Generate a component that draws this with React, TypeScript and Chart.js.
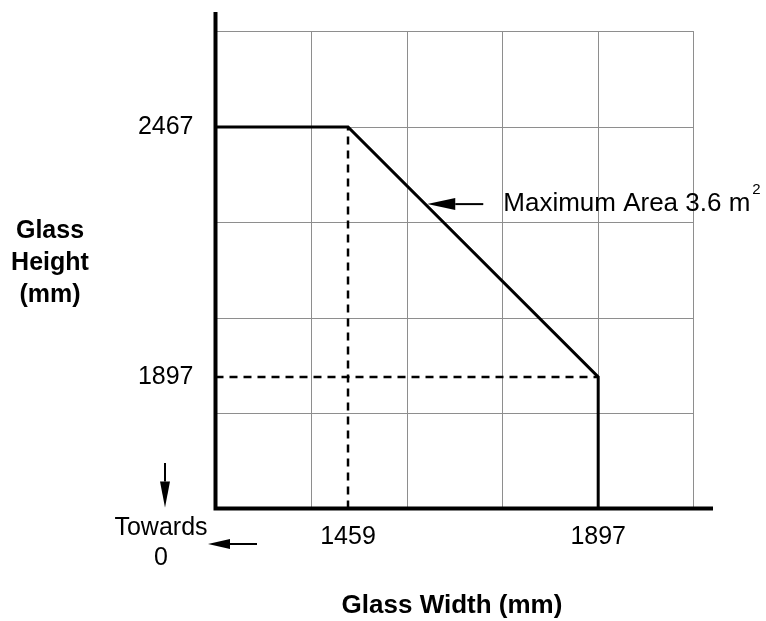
import React, { useEffect, useRef } from "react";
import { Chart, registerables } from "chart.js";
Chart.register(...registerables);

// Axis ranges (the chart is not drawn to scale from zero: "Towards 0")
const xAxisMin = 1227;
const xAxisMax = 2098;
const yAxisMin = 1597;
const yAxisMax = 2729;
const gridStepX = 167.3;
const gridStepY = 217.7;
const gridCount = 5;

// Tick labels
const widthTicks = [1459, 1897];
const heightTicks = [2467, 1897];

// Limit outline (width, height) in mm
const outlineWidths = [xAxisMin, 1459, 1897, 1897];
const outlineHeights = [2467, 2467, 1897, yAxisMin];

// Dashed guide lines
const guideWidth = 1459;
const guideHeight = 1897;
const guideTopHeight = 2467;
const guideRightWidth = 1897;

const annotationText = "Maximum Area 3.6 m";
const annotationSup = "2";
const annotationHeight = 2291; // height level where the annotation arrow touches the limit line

const FONT = "'Liberation Sans', Arial, Helvetica, sans-serif";

function arrow(ctx: CanvasRenderingContext2D, x1: number, y1: number, x2: number, y2: number, headLen: number, halfW: number, lw: number) {
  const ang = Math.atan2(y2 - y1, x2 - x1);
  const bx = x2 - Math.cos(ang) * headLen;
  const by = y2 - Math.sin(ang) * headLen;
  ctx.save();
  ctx.strokeStyle = "#000";
  ctx.fillStyle = "#000";
  ctx.lineWidth = lw;
  ctx.beginPath();
  ctx.moveTo(x1, y1);
  ctx.lineTo(bx, by);
  ctx.stroke();
  ctx.beginPath();
  ctx.moveTo(x2, y2);
  ctx.lineTo(bx + Math.sin(ang) * halfW, by - Math.cos(ang) * halfW);
  ctx.lineTo(bx - Math.sin(ang) * halfW, by + Math.cos(ang) * halfW);
  ctx.closePath();
  ctx.fill();
  ctx.restore();
}

const decorPlugin = {
  id: "decor",
  beforeDatasetsDraw(chart: any) {
    const ctx = chart.ctx as CanvasRenderingContext2D;
    const xs = chart.scales.x;
    const ys = chart.scales.y;
    const x0 = xs.getPixelForValue(xAxisMin);
    const y0 = ys.getPixelForValue(yAxisMin);
    const xEnd = xs.getPixelForValue(xAxisMin + gridStepX * gridCount);
    const yEnd = ys.getPixelForValue(yAxisMin + gridStepY * gridCount);
    ctx.save();
    ctx.strokeStyle = "#8e8e8e";
    ctx.lineWidth = 1;
    for (let k = 1; k <= gridCount; k++) {
      const px = Math.round(xs.getPixelForValue(xAxisMin + gridStepX * k)) + 0.5;
      ctx.beginPath();
      ctx.moveTo(px, y0);
      ctx.lineTo(px, yEnd);
      ctx.stroke();
      const py = Math.round(ys.getPixelForValue(yAxisMin + gridStepY * k)) + 0.5;
      ctx.beginPath();
      ctx.moveTo(x0, py);
      ctx.lineTo(xEnd, py);
      ctx.stroke();
    }
    ctx.restore();
  },
  afterDatasetsDraw(chart: any) {
    const ctx = chart.ctx as CanvasRenderingContext2D;
    const xs = chart.scales.x;
    const ys = chart.scales.y;
    const area = chart.chartArea;
    const x0 = xs.getPixelForValue(xAxisMin);
    const y0 = ys.getPixelForValue(yAxisMin);
    ctx.save();
    // axes
    ctx.strokeStyle = "#000";
    ctx.lineWidth = 4;
    ctx.lineCap = "butt";
    ctx.beginPath();
    ctx.moveTo(x0, area.top);
    ctx.lineTo(x0, y0 + 2);
    ctx.moveTo(x0 - 2, y0);
    ctx.lineTo(area.right, y0);
    ctx.stroke();

    ctx.fillStyle = "#000";
    // y tick labels
    ctx.font = `25px ${FONT}`;
    ctx.textAlign = "right";
    ctx.textBaseline = "middle";
    heightTicks.forEach((v) => {
      ctx.fillText(String(v), x0 - 22, ys.getPixelForValue(v));
    });
    // x tick labels
    ctx.textAlign = "center";
    ctx.textBaseline = "top";
    widthTicks.forEach((v) => {
      ctx.fillText(String(v), xs.getPixelForValue(v), y0 + 16);
    });
    // Towards 0
    ctx.textBaseline = "middle";
    ctx.fillText("Towards", 161, 528);
    ctx.fillText("0", 161, 558);
    arrow(ctx, 165, 463, 165, y0 - 1, 26, 5, 2);
    arrow(ctx, 257, 544, 208, 544, 22, 5, 2);

    // axis titles
    ctx.font = `bold 25px ${FONT}`;
    ctx.textAlign = "center";
    ctx.fillText("Glass", 50, 231);
    ctx.fillText("Height", 50, 263);
    ctx.fillText("(mm)", 50, 295);
    ctx.font = `bold 26px ${FONT}`;
    ctx.fillText("Glass Width (mm)", 452, 606);

    // annotation
    const ay = ys.getPixelForValue(annotationHeight);
    const t = (annotationHeight - outlineHeights[1]) / (outlineHeights[2] - outlineHeights[1]);
    const aw = outlineWidths[1] + t * (outlineWidths[2] - outlineWidths[1]);
    const ax = xs.getPixelForValue(aw);
    arrow(ctx, ax + 58, ay, ax + 2, ay, 28, 6, 2);
    ctx.font = `26px ${FONT}`;
    ctx.textAlign = "left";
    ctx.fillText(annotationText, ax + 78, ay);
    const tw = ctx.measureText(annotationText).width;
    ctx.font = `15px ${FONT}`;
    ctx.fillText(annotationSup, ax + 78 + tw + 2, ay - 14);
    ctx.restore();
  },
};

export default function App() {
  const ref = useRef<HTMLCanvasElement | null>(null);
  useEffect(() => {
    document.body.style.margin = "0";
    const canvas = ref.current!;
    const chart = new Chart(canvas, {
      type: "line",
      data: {
        datasets: [
          {
            data: outlineWidths.map((w, i) => ({ x: w, y: outlineHeights[i] })),
            borderColor: "#000",
            borderWidth: 3,
            pointRadius: 0,
            tension: 0,
            fill: false,
            clip: 10,
            borderJoinStyle: "miter",
          } as any,
          {
            data: [
              { x: guideWidth, y: yAxisMin },
              { x: guideWidth, y: guideTopHeight },
            ],
            borderColor: "#000",
            borderWidth: 2.5,
            borderDash: [8, 6],
            pointRadius: 0,
            fill: false,
            clip: 10,
          } as any,
          {
            data: [
              { x: xAxisMin, y: guideHeight },
              { x: guideRightWidth, y: guideHeight },
            ],
            borderColor: "#000",
            borderWidth: 2.5,
            borderDash: [8, 6],
            pointRadius: 0,
            fill: false,
            clip: 10,
          } as any,
        ],
      },
      options: {
        responsive: false,
        animation: false,
        events: [],
        layout: { padding: { left: 215.5, right: 53, top: 12, bottom: 112.5 } },
        scales: {
          x: { type: "linear", min: xAxisMin, max: xAxisMax, display: false },
          y: { type: "linear", min: yAxisMin, max: yAxisMax, display: false },
        },
        plugins: { legend: { display: false }, tooltip: { enabled: false } },
      },
      plugins: [decorPlugin],
    });
    return () => chart.destroy();
  }, []);
  return <canvas ref={ref} width={766} height={621} style={{ display: "block" }} />;
}
